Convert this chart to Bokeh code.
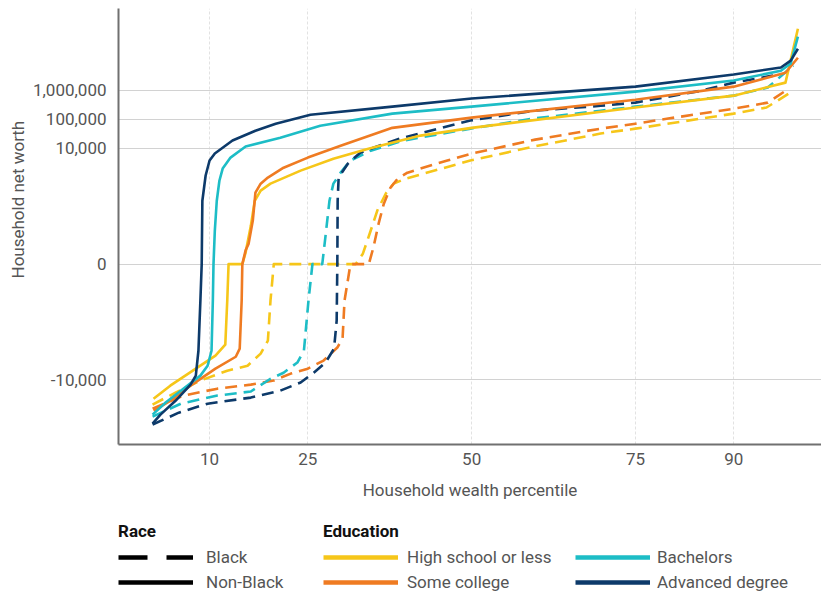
import numpy as np
from bokeh.plotting import figure
from bokeh.models import Range1d, FixedTicker, CustomJSTickFormatter, Legend, LegendItem, Title
from bokeh.layouts import column
from bokeh.embed import file_html
from bokeh.resources import INLINE

# ---------------- data (percentile, household net worth in $) ----------------
X_TICKS = [10, 25, 50, 75, 90]
Y_TICKS = [-10000, 0, 10000, 100000, 1000000]

EDUCATION = ["High school or less", "Some college", "Bachelors", "Advanced degree"]
RACE = ["Black", "Non-Black"]

# Non-Black, high school or less
PCT_NB_HS = [1.45, 4.0, 7.9, 10.9, 12.4, 12.7, 12.9, 15.0, 15.5, 16.3, 16.9, 17.8, 19.3, 23.9, 28.9,
             34.1, 42.2, 50.0, 75.0, 90.0, 97.9, 99.8]
NW_NB_HS = [-44700, -15800, -4070, -1440, -600, -17, 0, 0, 1.5, 20, 154, 346, 602, 1700, 4360,
            9550, 27500, 51000, 257000, 661000, 1860000, 135000000]

# Non-Black, some college
PCT_NB_SC = [1.45, 4.0, 7.1, 10.9, 14.0, 14.6, 14.9, 15.0, 15.5, 15.95, 16.6, 17.0, 17.8, 18.9, 21.3,
             25.0, 30.0, 37.9, 50.0, 75.0, 90.0, 97.9, 99.8]
NW_NB_SC = [-115000, -52500, -15800, -4070, -1580, -830, -17, 0, 2, 4, 31, 294, 602, 980, 2140,
            4790, 12300, 51000, 115000, 479000, 1350000, 4070000, 13500000]

# Non-Black, bachelors
PCT_NB_BA = [1.3, 3.3, 6.0, 8.6, 9.7, 10.3, 10.5, 10.6, 10.8, 11.1, 11.5, 12.0, 13.2, 15.5, 20.8,
             26.9, 37.9, 50.0, 75.0, 90.0, 97.2, 98.7, 99.8]
NW_NB_BA = [-158000, -60300, -20000, -7100, -3240, -980, -17, 0, 13, 154, 760, 2000, 4790, 11500, 23400,
            60300, 158000, 275000, 912000, 2190000, 4800000, 8500000, 72000000]

# Non-Black, advanced degree
PCT_NB_AD = [1.3, 2.5, 4.8, 7.1, 7.9, 8.3, 8.6, 8.8, 8.9, 9.4, 10.0, 10.8, 13.5, 17.0, 20.1,
             25.4, 37.9, 50.0, 75.0, 90.0, 97.2, 98.7, 99.8]
NW_NB_AD = [-324000, -158000, -52500, -14500, -7100, -980, -17, 0, 154, 1150, 3800, 6600, 18600, 40700, 70800,
            144500, 275000, 525000, 1350000, 3550000, 6200000, 10700000, 27500000]

# Black, high school or less
PCT_B_HS = [1.3, 4.8, 8.6, 12.7, 15.8, 17.8, 18.9, 19.3, 19.8, 32.3, 33.4, 34.6, 35.6, 36.9, 38.1,
            39.9, 49.8, 59.5, 69.7, 75.0, 90.0, 95.0, 98.4]
NW_B_HS = [-70800, -27500, -10500, -4790, -3240, -1230, -440, -17, 0, 0, 1.3, 13.5, 70, 275, 602,
           890, 3800, 11500, 32400, 47900, 158000, 257000, 776000]

# Black, some college
PCT_B_SC = [1.3, 6.0, 11.2, 16.3, 19.8, 22.4, 25.0, 27.4, 29.5, 30.3, 30.6, 31.1, 31.5, 34.3, 35.0,
            35.8, 36.6, 37.6, 38.7, 40.2, 42.2, 46.3, 50.0, 59.7, 69.7, 75.0, 80.0, 90.0, 95.2, 98.4]
NW_B_SC = [-97700, -34700, -20000, -14500, -10500, -6030, -4070, -2140, -760, -370, -17, -2.7, 0, 0, 2.7,
           24, 122, 436, 890, 1440, 2000, 3800, 6600, 20000, 47900, 70800, 107000, 234000, 380000, 1150000]

# Black, bachelors
PCT_B_BA = [1.3, 5.6, 11.2, 16.3, 19.3, 21.3, 23.4, 24.4, 25.1, 25.7, 27.2, 27.7, 28.3, 28.9, 30.0,
            31.5, 34.6, 39.6, 49.8, 59.5, 69.7, 75.0, 90.0, 95.2, 99.1]
NW_B_BA = [-186000, -66100, -34700, -25100, -9120, -5620, -2510, -980, -17, 0, 0, 8.5, 154, 602, 1440,
           3800, 8320, 18600, 47900, 107000, 200000, 275000, 661000, 1260000, 7240000]

# Black, advanced degree
PCT_B_AD = [1.3, 5.3, 9.7, 16.3, 20.8, 23.9, 25.9, 27.7, 29.0, 29.4, 29.5, 29.55, 29.7, 31.1, 33.0,
            35.0, 39.1, 49.8, 59.5, 69.7, 75.0, 85.0, 90.0, 96.0]
NW_B_AD = [-347000, -135000, -66100, -40700, -23400, -12300, -5620, -2510, -830, -88, 0, 154, 980, 2950, 7080,
           10500, 21900, 91200, 200000, 295000, 380000, 977000, 1860000, 3240000]

COLORS = {"High school or less": "#F6C619", "Some college": "#EF7B22",
          "Bachelors": "#1DBDC6", "Advanced degree": "#0D3A6A"}

SERIES = [
    ("Black", "High school or less", PCT_B_HS, NW_B_HS),
    ("Black", "Some college", PCT_B_SC, NW_B_SC),
    ("Black", "Bachelors", PCT_B_BA, NW_B_BA),
    ("Black", "Advanced degree", PCT_B_AD, NW_B_AD),
    ("Non-Black", "High school or less", PCT_NB_HS, NW_NB_HS),
    ("Non-Black", "Some college", PCT_NB_SC, NW_NB_SC),
    ("Non-Black", "Bachelors", PCT_NB_BA, NW_NB_BA),
    ("Non-Black", "Advanced degree", PCT_NB_AD, NW_NB_AD),
]


def slog(v):
    v = np.asarray(v, dtype=float)
    return np.sign(v) * np.log10(1.0 + np.abs(v))


FONT = "Roboto"
TXT = "#555555"
LEFT = 118

p = figure(width=821, height=505, x_range=Range1d(-3.9, 103.4), y_range=Range1d(-6.23, 8.83),
           output_backend="svg", toolbar_location=None,
           min_border_left=LEFT, min_border_right=0, min_border_top=8, min_border_bottom=61)
p.outline_line_color = None
p.background_fill_color = "white"

p.xaxis.ticker = FixedTicker(ticks=X_TICKS)
p.yaxis.ticker = FixedTicker(ticks=[float(t) for t in slog(Y_TICKS)])
p.yaxis.formatter = CustomJSTickFormatter(code="""
const v = Math.sign(tick) * (Math.pow(10, Math.abs(tick)) - 1);
if (Math.abs(v) < 0.5) { return "0"; }
return Math.round(v).toLocaleString('en-US');
""")

for ax in (p.xaxis, p.yaxis):
    ax.major_tick_line_color = None
    ax.minor_tick_line_color = None
    ax.axis_line_color = "#707070"
    ax.axis_line_width = 2
    ax.major_label_text_font = FONT
    ax.major_label_text_font_size = "17px"
    ax.major_label_text_color = TXT
    ax.axis_label_text_font = FONT
    ax.axis_label_text_font_size = "17px"
    ax.axis_label_text_font_style = "normal"
    ax.axis_label_text_color = TXT

p.xaxis.axis_label = "Household wealth percentile"
p.xaxis.major_label_standoff = 2
p.xaxis.axis_label_standoff = 12
p.yaxis.major_label_standoff = 6

# y-axis title, placed along the left side (slightly above the frame centre as in the original)
ytitle = Title(text="Household net worth", align="left", offset=166,
               text_font=FONT, text_font_size="17px", text_font_style="normal",
               text_color=TXT, standoff=4)
p.add_layout(ytitle, "left")

p.xgrid.grid_line_color = "#e2e2e2"
p.xgrid.grid_line_dash = "3 2"
p.xgrid.grid_line_width = 1
p.ygrid.grid_line_color = "#d2d2d2"
p.ygrid.grid_line_width = 1

for race, edu, xs, vs in SERIES:
    p.line(xs, slog(vs), line_color=COLORS[edu], line_width=2.6,
           line_dash="12 7" if race == "Black" else "solid",
           line_join="round")

# ---------------- legend panel ----------------
leg = figure(width=821, height=90, x_range=Range1d(0, 1), y_range=Range1d(0, 1),
             output_backend="svg", toolbar_location=None,
             min_border_left=LEFT, min_border_right=0, min_border_top=0, min_border_bottom=0,
             x_axis_type=None, y_axis_type=None)
leg.outline_line_color = None
leg.xgrid.visible = False
leg.ygrid.visible = False

# legend-only renderers (single point outside the visible range draws nothing)
r_black = leg.line([5], [5], line_color="black", line_width=4.5, line_dash="29 19")
r_nonblack = leg.line([5], [5], line_color="black", line_width=4.5)
edu_r = {e: leg.line([5], [5], line_color=COLORS[e], line_width=4.5) for e in EDUCATION}


def style(lg, standoff):
    lg.glyph_width = 75
    lg.glyph_height = 18
    lg.label_height = 18
    lg.label_standoff = standoff
    lg.spacing = 5
    lg.padding = 0
    lg.margin = 0
    lg.border_line_color = None
    lg.background_fill_alpha = 0
    lg.label_text_font = FONT
    lg.label_text_font_size = "17px"
    lg.label_text_color = TXT
    lg.title_text_font = FONT
    lg.title_text_font_size = "17px"
    lg.title_text_font_style = "bold"
    lg.title_text_color = "#111111"
    lg.title_standoff = 6


lg_race = Legend(items=[LegendItem(label=RACE[0], renderers=[r_black]),
                        LegendItem(label=RACE[1], renderers=[r_nonblack])],
                 title="Race", location=(0, 3))
style(lg_race, 13)
lg_edu1 = Legend(items=[LegendItem(label=EDUCATION[0], renderers=[edu_r[EDUCATION[0]]]),
                        LegendItem(label=EDUCATION[1], renderers=[edu_r[EDUCATION[1]]])],
                 title="Education", location=(205, 3))
style(lg_edu1, 9)
lg_edu2 = Legend(items=[LegendItem(label=EDUCATION[2], renderers=[edu_r[EDUCATION[2]]]),
                        LegendItem(label=EDUCATION[3], renderers=[edu_r[EDUCATION[3]]])],
                 location=(457, 3))
style(lg_edu2, 7)
for lg in (lg_race, lg_edu1, lg_edu2):
    leg.add_layout(lg)

layout = column(p, leg, spacing=0)
open("out.html", "w").write(file_html(layout, INLINE))
